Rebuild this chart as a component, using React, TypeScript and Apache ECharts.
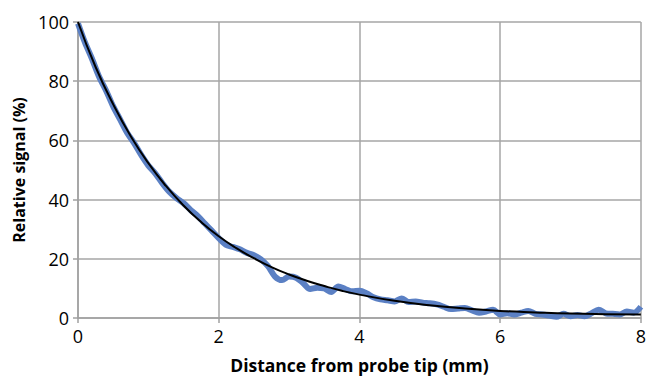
import React, { useEffect, useRef } from "react";
import * as echarts from "echarts";

const xTicks = [0, 2, 4, 6, 8];
const yTicks = [0, 20, 40, 60, 80, 100];

const measuredX = [
  0.0, 0.1, 0.2, 0.3, 0.4, 0.5, 0.6, 0.7, 0.8, 0.9,
  1.0, 1.1, 1.2, 1.3, 1.4, 1.5, 1.6, 1.7, 1.8, 1.9,
  2.0, 2.1, 2.2, 2.3, 2.4, 2.5, 2.6, 2.7, 2.8, 2.9,
  3.0, 3.1, 3.2, 3.3, 3.4, 3.5, 3.6, 3.7, 3.8, 3.9,
  4.0, 4.1, 4.2, 4.3, 4.4, 4.5, 4.6, 4.7, 4.8, 4.9,
  5.0, 5.1, 5.2, 5.3, 5.4, 5.5, 5.6, 5.7, 5.8, 5.9,
  6.0, 6.1, 6.2, 6.3, 6.4, 6.5, 6.6, 6.7, 6.8, 6.9,
  7.0, 7.1, 7.2, 7.3, 7.4, 7.5, 7.6, 7.7, 7.8, 7.9, 8.0,
];
const measuredY = [
  99.5, 93.0, 87.5, 81.5, 76.8, 71.5, 67.0, 62.5, 59.0, 55.0,
  51.5, 48.8, 45.5, 42.6, 40.5, 38.8, 36.5, 34.5, 32.0, 29.5,
  27.0, 24.8, 24.0, 23.2, 22.0, 21.2, 19.8, 17.5, 14.0, 12.8,
  14.0, 13.6, 11.8, 9.8, 10.2, 10.0, 8.8, 10.6, 9.8, 9.0,
  9.2, 8.4, 7.0, 6.3, 6.0, 5.6, 6.6, 5.4, 5.6, 5.2,
  5.0, 4.6, 3.8, 3.0, 3.2, 3.4, 2.6, 1.8, 2.2, 2.8,
  1.2, 1.6, 1.2, 1.8, 2.4, 1.4, 1.2, 0.8, 0.4, 1.4,
  0.6, 1.0, 0.6, 1.6, 2.8, 1.6, 1.4, 1.2, 2.2, 1.8, 3.8,
];

const fitX = [0, 0.25, 0.5, 0.75, 1, 1.25, 1.5, 1.75, 2, 2.25, 2.5, 2.75, 3, 3.25, 3.5, 3.75, 4, 4.5, 5, 5.5, 6, 6.5, 7, 7.5, 8];
const fitY = [100, 84.8, 72.2, 61.4, 52.3, 44.6, 38.0, 32.4, 27.6, 23.6, 20.2, 17.2, 14.7, 12.6, 10.8, 9.2, 7.9, 5.8, 4.3, 3.2, 2.4, 1.9, 1.5, 1.3, 1.2];

const FONT = "'Open Sans', 'Liberation Sans', sans-serif";

export default function App() {
  const ref = useRef<HTMLDivElement>(null);
  useEffect(() => {
    if (!ref.current) return;
    const chart = echarts.init(ref.current, undefined, { renderer: "svg" });
    chart.setOption({
      animation: false,
      backgroundColor: "#ffffff",
      grid: { left: 78, right: 7, top: 22, bottom: 59 },
      xAxis: {
        type: "value",
        min: xTicks[0],
        max: xTicks[xTicks.length - 1],
        interval: 2,
        name: "Distance from probe tip (mm)",
        nameLocation: "middle",
        nameGap: 38,
        nameTextStyle: { fontFamily: FONT, fontWeight: "bold", fontSize: 17.5, color: "#000" },
        axisLine: { show: true, lineStyle: { color: "#a0a0a0", width: 1.5 } },
        axisTick: { show: true, length: 5, inside: false, lineStyle: { color: "#a0a0a0", width: 1.5 } },
        axisLabel: { fontFamily: FONT, fontSize: 18, color: "#000", margin: 9 },
        splitLine: { show: true, lineStyle: { color: "#a6a6a6", width: 1.5 } },
      },
      yAxis: {
        type: "value",
        min: yTicks[0],
        max: yTicks[yTicks.length - 1],
        interval: 20,
        name: "Relative signal (%)",
        nameLocation: "middle",
        nameGap: 46,
        nameTextStyle: { fontFamily: FONT, fontWeight: "bold", fontSize: 16, color: "#000" },
        axisLine: { show: true, lineStyle: { color: "#a0a0a0", width: 1.5 } },
        axisTick: { show: true, length: 5, lineStyle: { color: "#a0a0a0", width: 1.5 } },
        axisLabel: { fontFamily: FONT, fontSize: 18, color: "#000", margin: 9 },
        splitLine: { show: true, lineStyle: { color: "#a6a6a6", width: 1.5 } },
      },
      series: [
        {
          type: "line",
          data: measuredX.map((x, i) => [x, measuredY[i]]),
          showSymbol: false,
          smooth: 0.3,
          lineStyle: { color: "#5b80c4", width: 6 },
          z: 2,
        },
        {
          type: "line",
          data: fitX.map((x, i) => [x, fitY[i]]),
          showSymbol: false,
          smooth: true,
          lineStyle: { color: "#000000", width: 2 },
          z: 3,
        },
      ],
    });
    return () => chart.dispose();
  }, []);
  return (
    <div
      ref={ref}
      style={{ position: "fixed", left: 0, top: 0, width: 649, height: 379, background: "#fff" }}
    />
  );
}
